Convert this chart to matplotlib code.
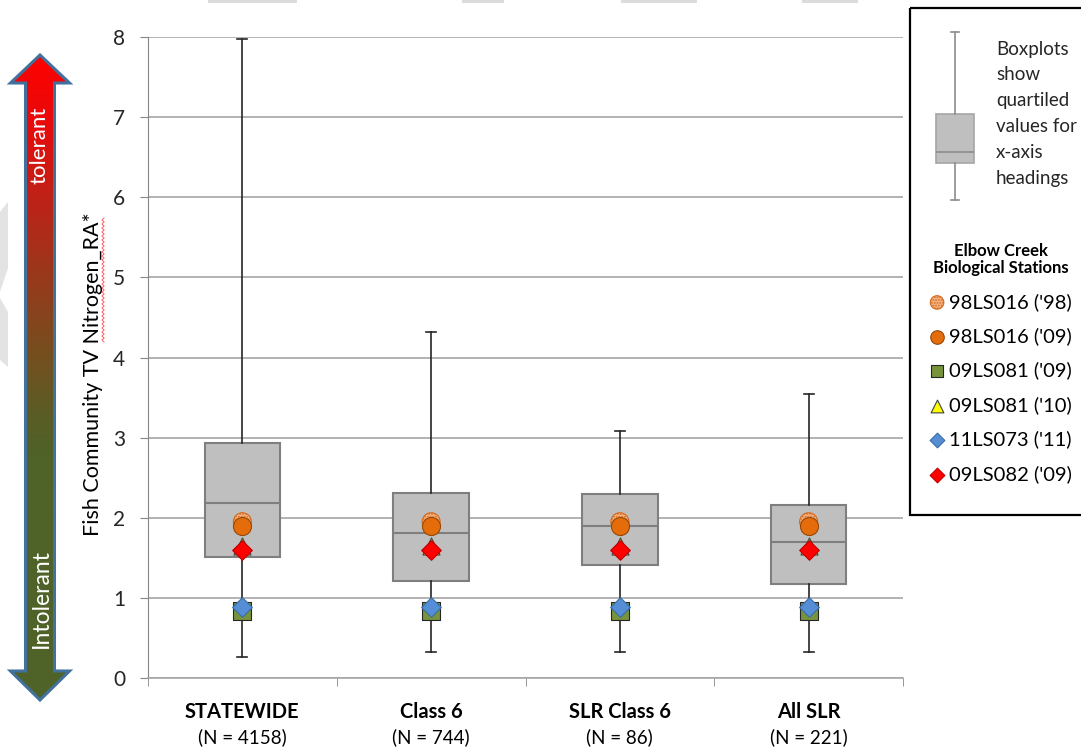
import numpy as np
import matplotlib.pyplot as plt
from matplotlib.patches import Polygon, Rectangle
from matplotlib.colors import LinearSegmentedColormap

plt.rcParams['font.family'] = ['Lato', 'DejaVu Sans']

# box statistics for each x-axis heading
groups = ['STATEWIDE', 'Class 6', 'SLR Class 6', 'All SLR']
group_n = [4158, 744, 86, 221]
whis_low = [0.26, 0.32, 0.32, 0.32]
q1 = [1.51, 1.21, 1.41, 1.17]
median = [2.18, 1.81, 1.90, 1.70]
q3 = [2.93, 2.31, 2.30, 2.16]
whis_high = [7.97, 4.32, 3.08, 3.55]

# Elbow Creek biological stations (same value plotted at every heading)
stations = ["98LS016 ('98)", "98LS016 ('09)", "09LS081 ('09)",
            "09LS081 ('10)", "11LS073 ('11)", "09LS082 ('09)"]
station_vals = [1.95, 1.90, 0.83, 1.65, 0.88, 1.60]

# marker styles per station
st_marker = ['o', 'o', 's', '^', 'D', 'D']
st_face = ['#f9b98a', '#e46c0a', '#77933c', '#ffff00', '#558ed5', '#ff0000']
st_edge = ['#d2691e', '#984807', '#262626', '#404040', '#3a6ea5', '#c00000']
st_size = [169, 169, 150, 150, 100, 100]
st_hatch = ['......', None, None, None, None, None]

W, H = 1081, 748
fig = plt.figure(figsize=(W / 100, H / 100), dpi=100)

# background axes in pixel units for the decorations
bg = fig.add_axes([0, 0, 1, 1], zorder=-1)
bg.axis('off')

# faint chevron pieces on the left edge and bits at the top
bg.add_patch(Polygon([(0, 212), (8, 202), (8, 268), (0, 292)], color='#e3e3e3', lw=0))
bg.add_patch(Polygon([(0, 298), (8, 312), (8, 367), (0, 360)], color='#e3e3e3', lw=0))
for x0, x1 in [(208, 297), (462, 504), (621, 697), (802, 858)]:
    bg.add_patch(Rectangle((x0, 0), x1 - x0, 3, color='#dcdcdc', lw=0))

# tolerant / intolerant double arrow with gradient fill
arrow_pts = [(40, 55), (69.5, 83), (54.5, 83), (54.5, 671), (69.5, 671), (40, 700),
             (10.5, 671), (25.5, 671), (25.5, 83), (10.5, 83)]
cmap = LinearSegmentedColormap.from_list('tol', [
    (0.0, '#ff0000'), (0.1, '#e80b0b'), (0.22, '#bf2218'), (0.35, '#963a1c'),
    (0.47, '#74501f'), (0.56, '#5a5d26'), (0.62, '#4f6228'), (1.0, '#4f6228')])
grad = np.linspace(0, 1, 400).reshape(-1, 1)
im = bg.imshow(grad, extent=[10, 70, 700, 55], cmap=cmap, aspect='auto')
clip = Polygon(arrow_pts, closed=True, transform=bg.transData)
im.set_clip_path(clip)
bg.add_patch(Polygon(arrow_pts, closed=True, fill=False, ec='#41719c', lw=2.2,
                     joinstyle='miter'))
bg.text(40, 145, 'tolerant', rotation=90, color='white', fontsize=16,
        ha='center', va='center')
bg.text(41, 598, 'Intolerant', rotation=90, color='white', fontsize=16.5,
        ha='center', va='center')

# spell-check squiggle under "Nitrogen_RA"
sq_y = np.arange(218, 344, 2.0)
bg.plot(103 + 1.1 * (-1) ** np.arange(len(sq_y)), sq_y, color='#ff5f5f', lw=0.7)

# legend frame and boxplot key
bg.add_patch(Rectangle((910, 8), 180, 507, fill=False, ec='black', lw=1.6))
bg.bxp([dict(whislo=200, q1=163, med=152, q3=114, whishi=32, fliers=[])],
       positions=[955], widths=38, capwidths=8, patch_artist=True, showfliers=False,
       boxprops=dict(facecolor='#bfbfbf', edgecolor='#a6a6a6', lw=1.2),
       medianprops=dict(color='#8c8c8c', lw=1.2),
       whiskerprops=dict(color='#8c8c8c', lw=1.2),
       capprops=dict(color='#8c8c8c', lw=1.2), manage_ticks=False)
key_lines = ['Boxplots', 'show', 'quartiled', 'values for', 'x-axis', 'headings']
for i, line in enumerate(key_lines):
    bg.text(996, 49 + i * 25.8, line, fontsize=13.5, color='#262626', va='center', ha='left')
bg.set_xlim(0, W)
bg.set_ylim(H, 0)

# main axes
ax = fig.add_axes([148 / W, 1 - 678 / H, 755 / W, 641 / H])
ax.patch.set_alpha(0)
pos = np.arange(len(groups)) + 0.5
stats = [dict(whislo=a, q1=b, med=c, q3=d, whishi=e, fliers=[])
         for a, b, c, d, e in zip(whis_low, q1, median, q3, whis_high)]
ax.bxp(stats, positions=pos, widths=0.4, capwidths=0.053, patch_artist=True,
       showfliers=False,
       boxprops=dict(facecolor='#bfbfbf', edgecolor='#7f7f7f', lw=1.5),
       medianprops=dict(color='#7f7f7f', lw=1.5),
       whiskerprops=dict(color='#262626', lw=1.2),
       capprops=dict(color='#262626', lw=1.2), manage_ticks=False)

handles = []
for i, v in enumerate(station_vals):
    h = ax.scatter(pos, [v] * len(pos), s=st_size[i], marker=st_marker[i],
                   facecolor=st_face[i], edgecolor=st_edge[i], linewidth=0.8,
                   hatch=st_hatch[i], zorder=5 + i)
    handles.append(h)

ax.set_xlim(0, 4)
ax.set_ylim(0, 8)
ax.set_yticks(range(0, 9))
ax.tick_params(axis='y', labelsize=15, labelcolor='#262626', color='#868686',
               length=5.8, pad=10.5)
ax.yaxis.grid(True, color='#a6a6a6', lw=1.2)
ax.set_axisbelow(True)
ax.set_xticks(pos)
ax.set_xticklabels([])
ax.tick_params(axis='x', which='major', length=0)
ax.set_xticks(np.arange(0, 5), minor=True)
ax.tick_params(axis='x', which='minor', length=6, color='#868686')
for s in ['top', 'right']:
    ax.spines[s].set_visible(False)
ax.spines['left'].set_color('#868686')
ax.spines['bottom'].set_color('#a6a6a6')
ax.spines['bottom'].set_linewidth(1.2)

for xi, g, n in zip(pos, groups, group_n):
    ax.annotate(g, xy=(xi, 0), xycoords=('data', 'axes fraction'),
                xytext=(0, -24.5), textcoords='offset points', ha='center', va='center',
                fontsize=14.5, fontweight='bold')
    ax.annotate(f'(N = {n})', xy=(xi, 0), xycoords=('data', 'axes fraction'),
                xytext=(0, -42.5), textcoords='offset points', ha='center', va='center',
                fontsize=13.5)

ax.set_ylabel('Fish Community TV Nitrogen_RA*', fontsize=15.5)
ax.yaxis.set_label_coords(-0.06, 0.474)

leg = fig.legend(handles, stations, loc='upper left', bbox_to_anchor=(929 / W, 1 - 243 / H),
                 frameon=False, title='Elbow Creek\nBiological Stations',
                 title_fontproperties={'weight': 'bold', 'size': 12},
                 alignment='center',
                 fontsize=14.5, markerscale=0.75, handlelength=0.8, handletextpad=0.2,
                 labelspacing=0.82, borderpad=0, borderaxespad=0)
leg.get_title().set_multialignment('center')
leg.get_title().set_linespacing(1.1)

fig.savefig('out.png', dpi=100, facecolor='white')
